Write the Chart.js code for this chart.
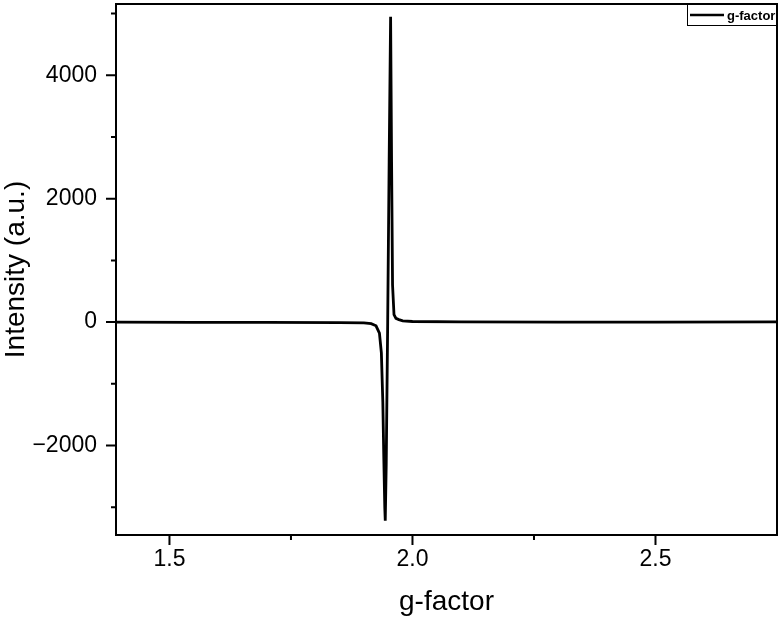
<!DOCTYPE html>
<html>
<head>
<meta charset="utf-8">
<script src="https://cdn.jsdelivr.net/npm/chart.js@4"></script>
<style>
  html, body { margin: 0; padding: 0; background: #fff; }
  #wrap { width: 780px; height: 622px; }
</style>
</head>
<body>
<div id="wrap"><canvas id="chart1"></canvas></div>
<script>
// g-factor axis values and the measured intensity at each
var gValues = [1.39, 1.55, 1.70, 1.85, 1.90, 1.915, 1.925, 1.932, 1.936, 1.939, 1.941, 1.943, 1.944, 1.946, 1.949, 1.952, 1.955, 1.957, 1.959, 1.962, 1.966, 1.972, 1.980, 2.00, 2.10, 2.30, 2.50, 2.75];
var intensity = [0, -5, -5, -8, -12, -25, -60, -180, -500, -1300, -2200, -3000, -3220, -2300, 0, 2600, 4950, 2600, 600, 120, 60, 40, 20, 10, 5, 0, 0, 5];

// tick positions: labelled ones and the small unlabelled ones between
var xTicks = [1.5, 2.0, 2.5];
var xMinorTicks = [1.75, 2.25];
var yTicks = [-2000, 0, 2000, 4000];
var yMinorTicks = [-3000, -1000, 1000, 3000, 5000];
var seriesName = 'g-factor';

var font = "'Liberation Sans', Arial, sans-serif";

var points = gValues.map(function (g, i) { return { x: g, y: intensity[i] }; });

function asTicks(list) {
    return list.map(function (v) { return { value: v }; });
}

function noPadding(scale) {
    scale.paddingTop = 0;
    scale.paddingBottom = 0;
    scale.paddingLeft = 0;
    scale.paddingRight = 0;
}

// frame, outward tick marks (major long, minor short) and the boxed legend
var framePlugin = {
    id: 'frame',
    afterDraw: function (chart) {
        var ctx = chart.ctx, a = chart.chartArea;
        var xs = chart.scales.x, ys = chart.scales.y;
        ctx.save();
        ctx.strokeStyle = '#000';
        ctx.lineWidth = 2;
        ctx.strokeRect(a.left, a.top, a.right - a.left, a.bottom - a.top);
        ctx.beginPath();
        xTicks.concat(xMinorTicks).forEach(function (v, i) {
            var px = xs.getPixelForValue(v);
            ctx.moveTo(px, a.bottom);
            ctx.lineTo(px, a.bottom + (i < xTicks.length ? 10 : 5));
        });
        yTicks.concat(yMinorTicks).forEach(function (v, i) {
            var py = ys.getPixelForValue(v);
            ctx.moveTo(a.left, py);
            ctx.lineTo(a.left - (i < yTicks.length ? 10 : 5), py);
        });
        ctx.stroke();

        // legend, top right inside the frame
        var bw = 90, bh = 22;
        var bx = a.right - bw, by = a.top;
        ctx.fillStyle = '#fff';
        ctx.fillRect(bx, by, bw, bh);
        ctx.lineWidth = 1;
        ctx.strokeRect(bx + 0.5, by + 0.5, bw - 1, bh - 1);
        ctx.lineWidth = 2.5;
        ctx.beginPath();
        ctx.moveTo(bx + 3, by + bh / 2);
        ctx.lineTo(bx + 37, by + bh / 2);
        ctx.stroke();
        ctx.fillStyle = '#000';
        ctx.font = 'bold 13px ' + font;
        ctx.textBaseline = 'middle';
        ctx.fillText(chart.data.datasets[0].label, bx + 40, by + bh / 2 + 1);
        ctx.restore();
    }
};

document.addEventListener('DOMContentLoaded', function () {
    var ctx1 = document.getElementById('chart1').getContext('2d');
    new Chart(ctx1, {
        type: 'line',
        data: {
            datasets: [{
                label: seriesName,
                data: points,
                borderColor: '#000',
                backgroundColor: '#000',
                borderWidth: 2.8,
                pointRadius: 0,
                tension: 0
            }]
        },
        options: {
            responsive: true,
            maintainAspectRatio: false,
            animation: false,
            layout: { padding: { top: 4, right: 3, left: 0, bottom: 4 } },
            plugins: {
                tooltip: { enabled: false },
                legend: { display: false }
            },
            scales: {
                x: {
                    type: 'linear',
                    min: 1.39,
                    max: 2.75,
                    border: { display: false },
                    grid: { display: false, drawTicks: false },
                    afterBuildTicks: function (scale) { scale.ticks = asTicks(xTicks); },
                    afterFit: function (scale) { noPadding(scale); scale.height = 83; },
                    ticks: {
                        autoSkip: false,
                        maxRotation: 0,
                        padding: 11,
                        color: '#000',
                        font: { family: font, size: 23 },
                        callback: function (v) { return v.toFixed(1); }
                    },
                    title: {
                        display: true,
                        text: 'g-factor',
                        color: '#000',
                        font: { family: font, size: 28, lineHeight: 1.15 },
                        padding: { top: 12, bottom: 0 }
                    }
                },
                y: {
                    type: 'linear',
                    min: -3450,
                    max: 5155,
                    border: { display: false },
                    grid: { display: false, drawTicks: false },
                    afterBuildTicks: function (scale) { scale.ticks = asTicks(yTicks); },
                    afterFit: function (scale) { noPadding(scale); scale.width = 116; },
                    ticks: {
                        autoSkip: false,
                        padding: 19,
                        color: '#000',
                        font: { family: font, size: 23 },
                        callback: function (v) {
                            return v < 0 ? '\u2212' + Math.abs(v) : String(v);
                        }
                    },
                    title: {
                        display: true,
                        text: 'Intensity (a.u.)',
                        color: '#000',
                        font: { family: font, size: 28, lineHeight: 1.15 },
                        padding: { top: 0, bottom: 0 }
                    }
                }
            }
        },
        plugins: [framePlugin]
    });
});
</script>
</body>
</html>
